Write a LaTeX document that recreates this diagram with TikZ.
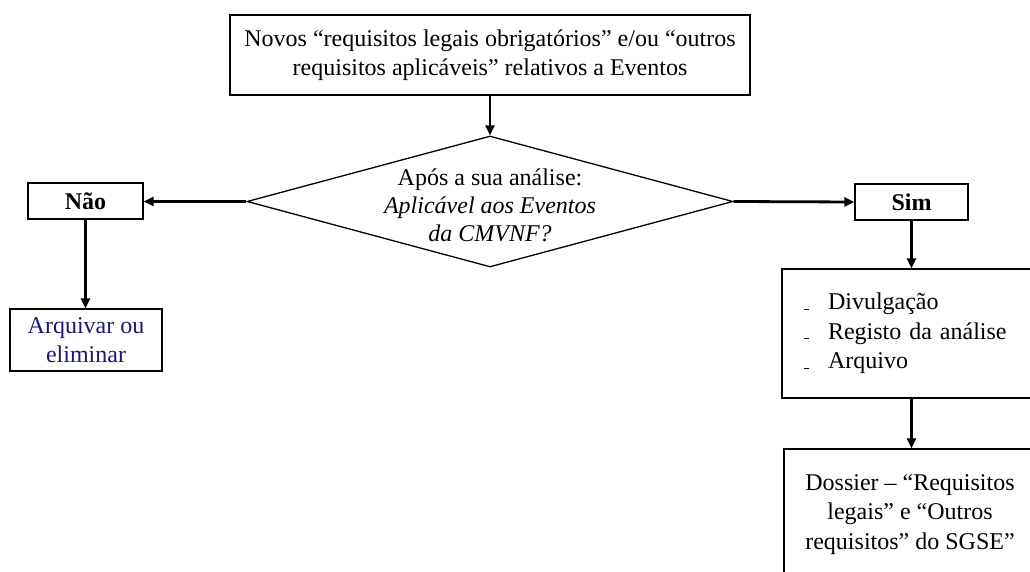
\documentclass[tikz,border=0pt]{standalone}
\usepackage{fontspec}
\setmainfont{Liberation Serif}
\usetikzlibrary{shapes.geometric,arrows.meta}
\definecolor{navytxt}{rgb}{0.10,0.10,0.45}
\newcommand{\dashitem}{\makebox[24pt][l]{\rule[0.5pt]{4.5pt}{0.9pt}}}
\begin{document}
\begin{tikzpicture}[x=1pt,y=-1pt,
  box/.style={draw,line width=1.3pt,inner sep=0pt,align=center,font=\fontsize{24pt}{29.5pt}\selectfont},
  flow/.style={line width=2.8pt,-{Triangle[length=10pt,width=9pt]}}]
\useasboundingbox (0,0) rectangle (1030,572);
\clip (0,0) rectangle (1030,572);

\node[box,minimum width=520pt,minimum height=80pt] (novos) at (490,55)
  {Novos “requisitos legais obrigatórios” e/ou “outros\\requisitos aplicáveis” relativos a Eventos};
\node[box,diamond,minimum width=486pt,minimum height=131pt] (dec) at (490,201.5) {};
\node[align=center,font=\fontsize{24pt}{28pt}\selectfont] (dectxt) at (490,205)
  {Após a sua análise:\\\textit{Aplicável aos Eventos}\\\textit{da CMVNF?}};
\node[box,minimum width=115pt,minimum height=36pt,font=\fontsize{24pt}{29pt}\selectfont\bfseries] (nao) at (85.5,201) {Não};
\node[box,minimum width=113pt,minimum height=36pt,font=\fontsize{24pt}{29pt}\selectfont\bfseries] (sim) at (911.5,202) {Sim};
\node[box,minimum width=152pt,minimum height=62pt,text=navytxt] (arq) at (86,340) {Arquivar ou\\eliminar};
\node[box,minimum width=254pt,minimum height=129pt,text width=210pt,inner xsep=22pt,align=left] (lst) at (909,333.5)
  {\begin{tabular}{@{}l@{}l@{}}
   \dashitem & Divulgação\\
   \dashitem & Registo da análise\\
   \dashitem & Arquivo
   \end{tabular}};
\node[box,minimum width=252pt,minimum height=131pt] (dos) at (910,514.5)
  {Dossier – “Requisitos\\legais” e “Outros\\requisitos” do SGSE”};

\draw[flow] (novos.south) -- (dec.north);
\draw[flow] (dec.west) -- (nao.east |- dec.west);
\draw[flow] (dec.east) -- (sim.west);
\draw[flow] (nao.south) -- (nao.south |- arq.north);
\draw[flow] (sim.south) -- (sim.south |- lst.north);
\draw[flow] (sim.south |- lst.south) -- (sim.south |- dos.north);
\end{tikzpicture}
\end{document}
